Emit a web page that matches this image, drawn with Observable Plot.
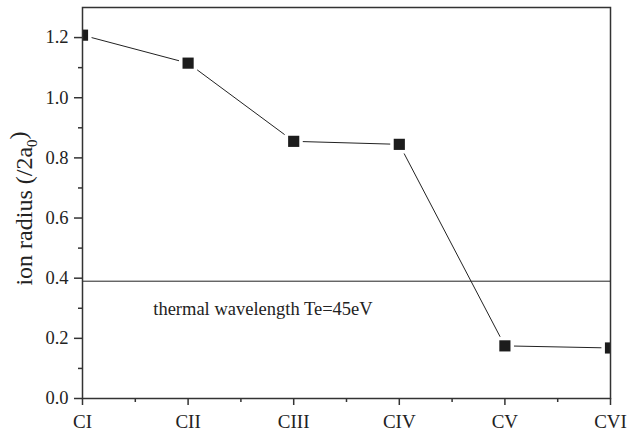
<!DOCTYPE html>
<html><head><meta charset="utf-8">
<script src="https://cdn.jsdelivr.net/npm/d3@7"></script>
<script src="https://cdn.jsdelivr.net/npm/@observablehq/plot@0.6"></script>
<style>html,body{margin:0;padding:0;background:#fff} svg{display:block}</style>
</head><body><div id="chart"></div>
<script>
const ions = ["CI", "CII", "CIII", "CIV", "CV", "CVI"];
const radius = [1.208, 1.115, 0.855, 0.845, 0.175, 0.168];
const thermalWavelength = [0.39];
const thermalLabel = ["thermal wavelength Te=45eV"];
const yLabel = ["ion radius (/2a0)"];
const yTicks = [0, 0.2, 0.4, 0.6, 0.8, 1.0, 1.2];
const yMinor = [0.1, 0.3, 0.5, 0.7, 0.9, 1.1];
const xTicks = [0, 1, 2, 3, 4, 5];
const xMinor = [0.5, 1.5, 2.5, 3.5, 4.5];

const data = ions.map((ion, i) => ({i, ion, r: radius[i]}));
const ink = "#222";

const chart = Plot.plot({
  width: 641, height: 434,
  marginLeft: 82, marginRight: 31, marginTop: 7, marginBottom: 36,
  style: {fontFamily: "'Liberation Serif', 'Times New Roman', serif", fontSize: "18.5px", color: ink, background: "#fff"},
  x: {domain: [0, 5], axis: null},
  y: {domain: [0, 1.3], axis: null},
  marks: [
    Plot.ruleY(thermalWavelength, {stroke: ink, strokeWidth: 1}),
    Plot.text(thermalLabel, {x: 0.67, y: 0.296, text: d => d, textAnchor: "start", fontSize: 18.5, fill: ink}),
    Plot.line(data, {x: "i", y: "r", stroke: ink, strokeWidth: 1}),
    Plot.dot(data, {x: "i", y: "r", symbol: "square", r: 6.3, fill: "#1c1c1c", stroke: "#fff", strokeWidth: 7, paintOrder: "stroke", clip: true}),
    Plot.frame({stroke: "#333", strokeWidth: 1.5}),
    Plot.axisY({ticks: yTicks, tickSize: 8, tickPadding: 6, tickFormat: d3.format(".1f"), label: null, stroke: "#333", strokeWidth: 1.5, fontSize: 18.5}),
    Plot.axisY({ticks: yMinor, tickSize: 4, tickFormat: () => "", label: null, stroke: "#333", strokeWidth: 1.5}),
    Plot.axisX({ticks: xTicks, tickSize: 7, tickPadding: 9, tickFormat: i => ions[i], label: null, stroke: "#333", strokeWidth: 1.5, fontSize: 19}),
    Plot.axisX({ticks: xMinor, tickSize: 4, tickFormat: () => "", label: null, stroke: "#333", strokeWidth: 1.5}),
    Plot.text(yLabel, {frameAnchor: "left", textAnchor: "middle", dx: -58, dy: 5.5, rotate: -90, text: d => d, fontSize: 24, fill: ink})
  ]
});
document.getElementById("chart").appendChild(chart);

d3.select(chart).selectAll("text")
  .filter(function() { return this.textContent === yLabel[0]; })
  .each(function() {
    const t = d3.select(this);
    t.text(null);
    t.append("tspan").text("ion radius (/2a");
    t.append("tspan").attr("dy", "0.3em").attr("font-size", "15px").text("0");
    t.append("tspan").attr("dy", "-0.45em").text(")");
  });
</script>
</body></html>
